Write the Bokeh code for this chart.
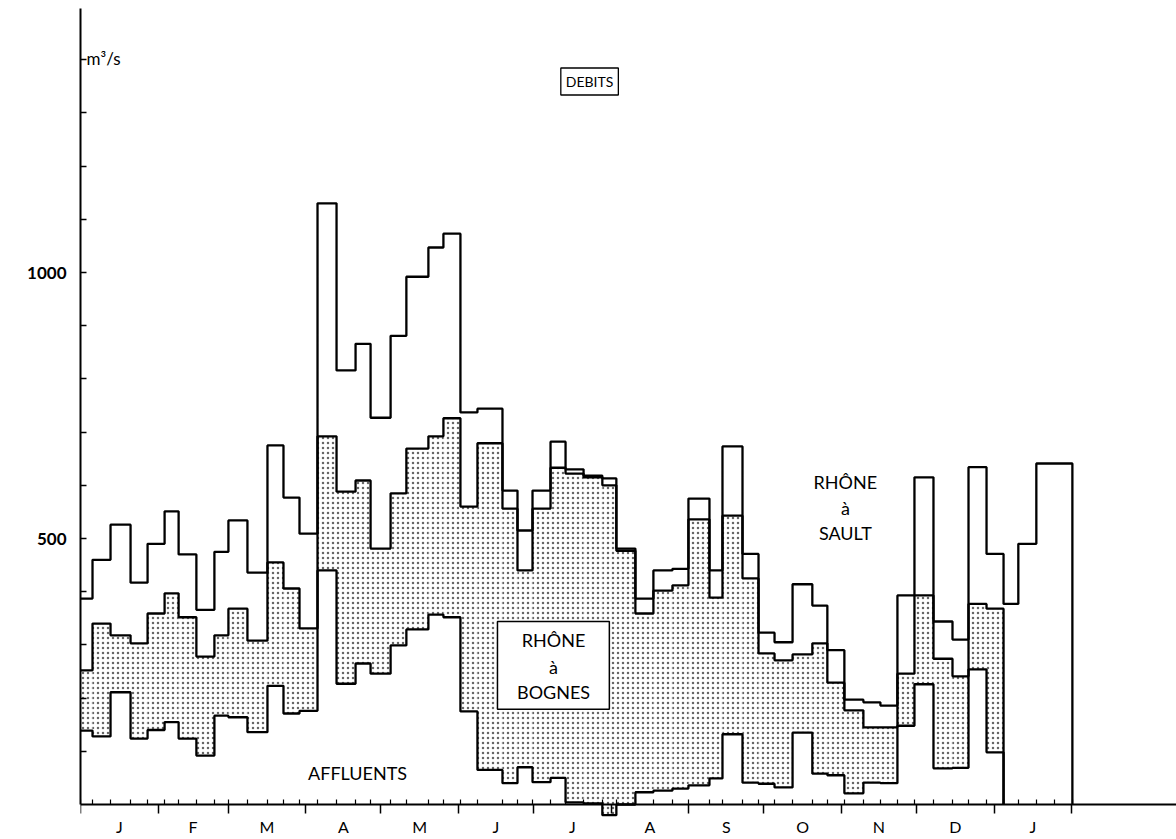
from bokeh.plotting import figure
from bokeh.models import LinearAxis, FixedTicker, Range1d, Label, BoxAnnotation, ColumnDataSource
from bokeh.embed import file_html
from bokeh.resources import INLINE

# ---- data (days from 1 January; discharge in m3/s) ----
week_edges = [0, 4.8, 12.0, 20.0, 26.8, 33.6, 39.2, 46.3, 53.5, 59.1, 66.7, 74.7, 81.1, 87.5,
              94.7, 102.3, 109.9, 115.9, 123.9, 130.2, 139.0, 145.0, 151.8, 158.6, 168.6, 174.6,
              180.6, 187.8, 193.8, 201.0, 208.5, 214.1, 221.7, 228.9, 236.5, 242.9, 251.3, 256.5,
              264.5, 270.9, 277.3, 284.5, 292.4, 298.4, 305.2, 312.8, 319.6, 326.4, 333.2, 340.8,
              348.4, 354.8, 362.0, 368.8, 374.7, 381.9, 389.1, 396.3]

sault = [387, 460, 526, 417, 490, 551, 470, 366, 475, 534, 436, 675, 577, 509,
         1130, 816, 866, 727, 881, 992, 1047, 1073, 737, 744, 590, 515, 590, 682,
         630, 618, 613, 481, 387, 440, 443, 575, 440, 673, 471, 323, 305, 414,
         374, 290, 197, 192, 186, 393, 615, 344, 310, 634, 471, 377, 490, 641, 641]

bognes = [252, 340, 318, 303, 359, 397, 352, 278, 318, 368, 308, 455, 406, 331,
          692, 588, 609, 481, 585, 669, 692, 726, 560, 679, 556, 440, 556, 633,
          622, 615, 600, 477, 359, 402, 412, 536, 389, 543, 425, 284, 271, 282,
          303, 229, 177, 145, 145, 246, 393, 274, 241, 377, 368]

affluents = [139, 128, 211, 124, 140, 155, 124, 92, 167, 164, 136, 223, 171, 176,
             440, 227, 265, 246, 299, 329, 357, 352, 175, 65, 40, 70, 42, 50,
             4, 2, -20, 0, 23, 26, 30, 36, 49, 132, 41, 39, 32, 135,
             58, 55, 21, 41, 40, 148, 226, 68, 69, 254, 98]

month_starts = [0, 31, 59, 90, 120, 151, 181, 212, 243, 273, 304, 334, 365, 396]
month_letters = ["J", "F", "M", "A", "M", "J", "J", "A", "S", "O", "N", "D", "J"]
y_ticks = [100, 200, 300, 400, 500, 600, 700, 800, 900, 1000, 1100, 1200, 1300, 1400]
y_labelled = [500, 1000]

FONT = "Lato"

p = figure(width=1176, height=839, x_range=Range1d(0, 437.9), y_range=Range1d(-65.8, 1511.3),
           x_axis_type=None, y_axis_type=None, output_backend="svg", toolbar_location=None,
           min_border_left=80, min_border_right=0, min_border_top=0, min_border_bottom=0,
           outline_line_color=None, background_fill_color="white", border_fill_color="white")

n = len(bognes)
fill_src = ColumnDataSource(dict(left=week_edges[:n], right=week_edges[1:n + 1],
                                 bottom=affluents, top=bognes))
p.quad(source=fill_src, left="left", right="right", bottom="bottom", top="top",
       fill_color="white", line_color=None, hatch_pattern="dot", hatch_scale=5.0,
       hatch_weight=1.0, hatch_color="black", hatch_alpha=0.6)

lw = 2.3
p.step(week_edges[:len(sault) + 1], sault + [0], mode="after", line_width=lw, line_color="black")
p.step(week_edges[:n + 1], bognes + [0], mode="after", line_width=lw, line_color="black")
p.step(week_edges[:len(affluents) + 1], affluents + [0], mode="after", line_width=lw, line_color="black")

# left axis
yax = LinearAxis(ticker=FixedTicker(ticks=y_ticks), bounds=(0, 1496),
                 major_label_overrides={t: (str(t) if t in y_labelled else "") for t in y_ticks},
                 major_tick_in=6, major_tick_out=0, minor_tick_line_color=None,
                 axis_line_width=2, major_tick_line_width=1.5, major_label_standoff=14,
                 major_label_text_font=FONT, major_label_text_font_size="17px",
                 major_label_text_font_style="bold", major_label_text_color="black")
p.add_layout(yax, "left")

# bottom axis line at zero with month (major) and week (minor) ticks
xax = LinearAxis(fixed_location=0,
                 ticker=FixedTicker(ticks=month_starts, minor_ticks=week_edges),
                 major_label_overrides={m: "" for m in month_starts},
                 major_tick_in=0, major_tick_out=9, minor_tick_in=5, minor_tick_out=0,
                 axis_line_width=2, major_tick_line_width=1.5, minor_tick_line_width=1.2)
p.add_layout(xax, "below")

mids = [(a + b) / 2 for a, b in zip(month_starts[:-1], month_starts[1:])]
lab = LinearAxis(fixed_location=0, ticker=FixedTicker(ticks=mids),
                 major_label_overrides=dict(zip(mids, month_letters)),
                 axis_line_color=None, major_tick_line_color=None, minor_tick_line_color=None,
                 major_tick_in=0, major_tick_out=0, minor_tick_in=0, minor_tick_out=0,
                 major_label_standoff=13, major_label_text_font=FONT,
                 major_label_text_font_size="16px", major_label_text_color="black")
p.add_layout(lab, "below")

# texts
p.add_layout(Label(x=2.4, y=1402, text="m³/s", text_font=FONT, text_font_size="17px",
                   text_align="left", text_baseline="middle", text_color="black"))
p.add_layout(Label(x=203.4, y=1359, text="DEBITS", text_font=FONT, text_font_size="14px",
                   text_align="center", text_baseline="middle", text_color="black",
                   border_line_color="black", border_line_width=1.3,
                   background_fill_color="white", padding=5))

p.add_layout(BoxAnnotation(left=166.6, right=211.3, bottom=179, top=344, fill_color="white",
                           fill_alpha=1.0, line_color="black", line_width=1.5, line_alpha=1.0))
for txt, yy in [("RHÔNE", 310), ("à", 258), ("BOGNES", 211)]:
    p.add_layout(Label(x=189, y=yy, text=txt, text_font=FONT, text_font_size="18px",
                       text_align="center", text_baseline="middle", text_color="black"))
for txt, yy in [("RHÔNE", 607), ("à", 558), ("SAULT", 511)]:
    p.add_layout(Label(x=305.6, y=yy, text=txt, text_font=FONT, text_font_size="18px",
                       text_align="center", text_baseline="middle", text_color="black"))
p.add_layout(Label(x=110.7, y=60, text="AFFLUENTS", text_font=FONT, text_font_size="18px",
                   text_align="center", text_baseline="middle", text_color="black"))

open("out.html", "w").write(file_html(p, INLINE))
